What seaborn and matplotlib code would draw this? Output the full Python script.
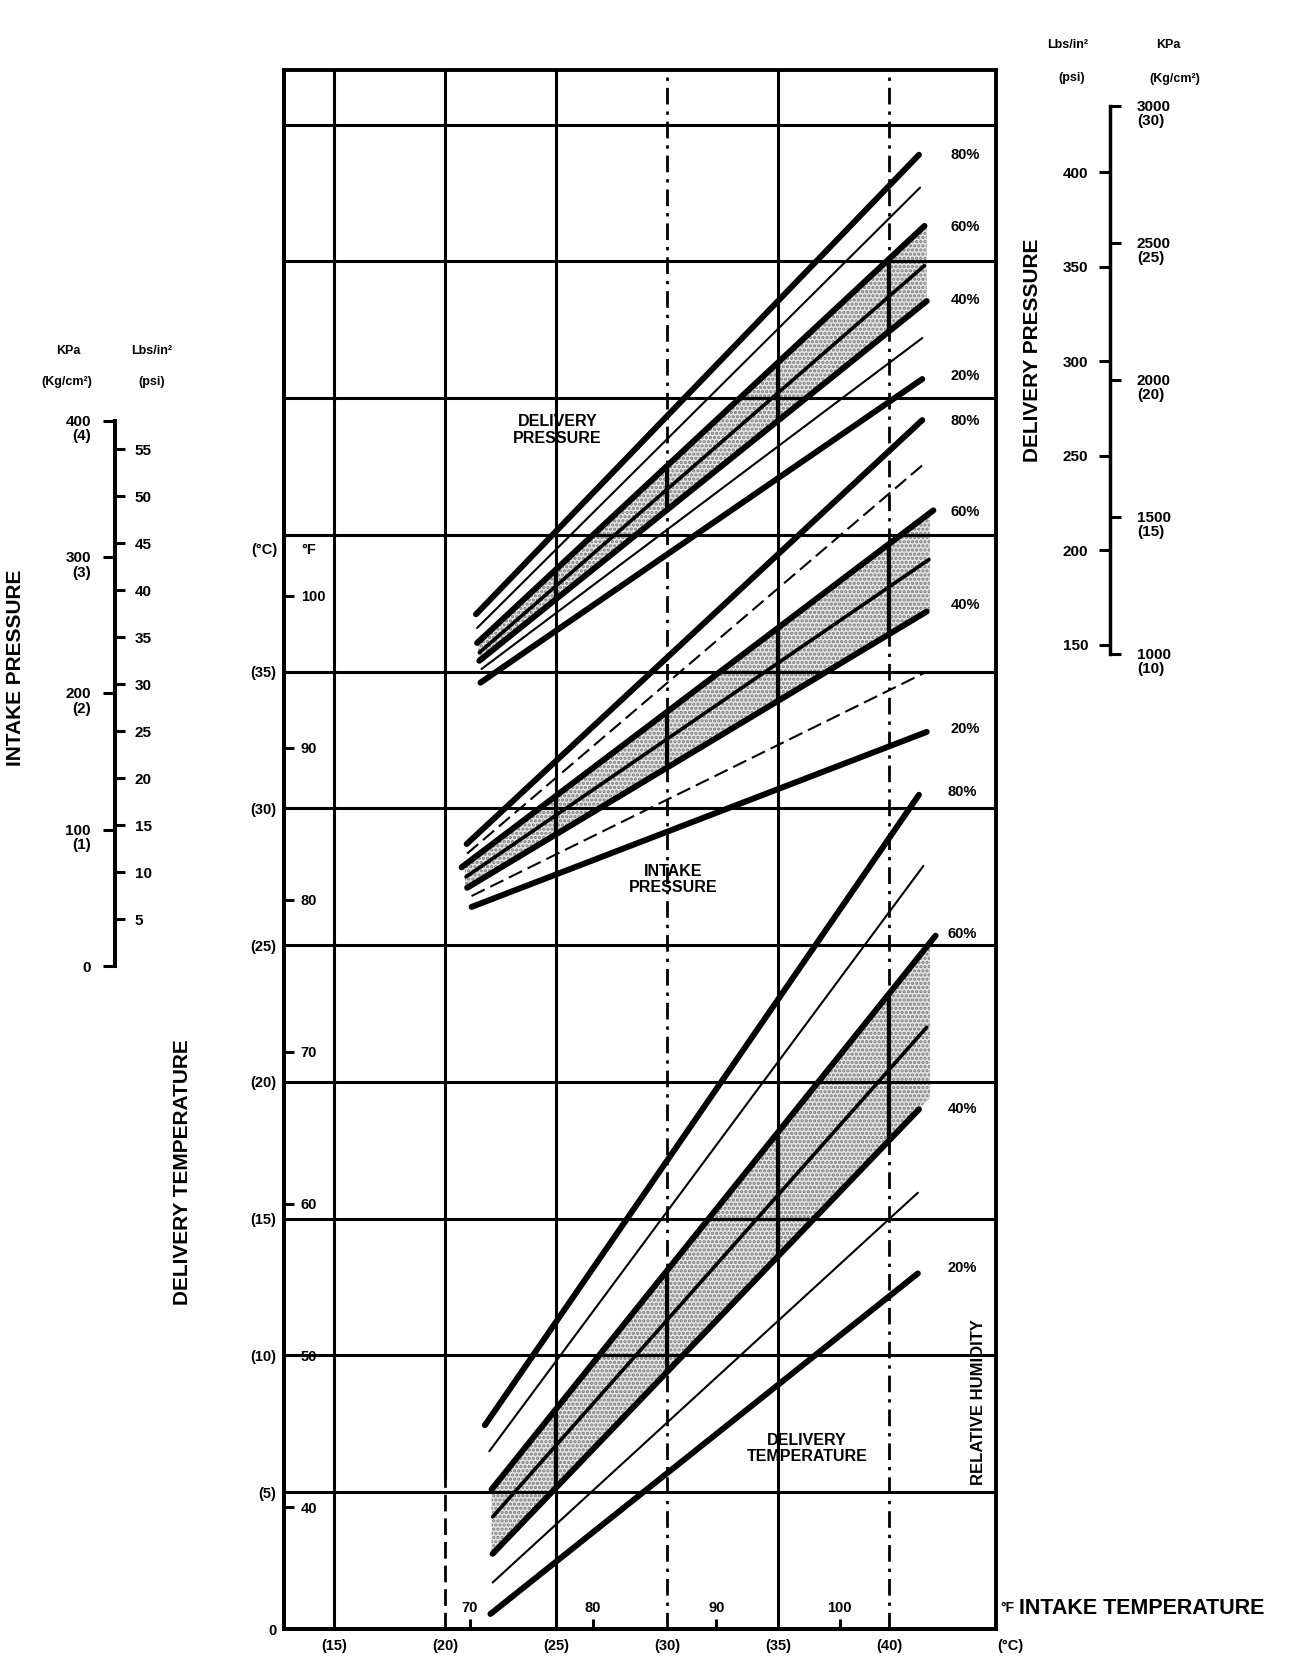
import numpy as np
import matplotlib.pyplot as plt
import seaborn as sns
from matplotlib.transforms import ScaledTranslation

# Relative humidity levels, one line per level in every family (top to bottom)
rh_levels = [80, 70, 60, 50, 40, 30, 20]

# Delivery pressure family: line end points (x = intake temp in C, y = chart scale)
dp_x0 = [21.4, 21.45, 21.45, 21.55, 21.55, 21.65, 21.6]
dp_y0 = [37.1, 36.6, 36.05, 35.7, 35.4, 35.1, 34.6]
dp_x1 = [41.35, 41.4, 41.6, 41.6, 41.7, 41.5, 41.5]
dp_y1 = [53.9, 52.7, 51.3, 49.85, 48.55, 47.2, 45.7]

# Intake pressure family
ip_x0 = [20.98, 21.0, 20.75, 20.95, 21.0, 21.2, 21.2]
ip_y0 = [28.7, 28.35, 27.85, 27.5, 27.1, 26.8, 26.4]
ip_x1 = [41.5, 41.65, 42.0, 41.8, 41.7, 41.7, 41.7]
ip_y1 = [44.2, 42.65, 40.9, 39.1, 37.2, 35.0, 32.8]

# Delivery temperature family
dt_x0 = [21.8, 22.0, 22.1, 22.15, 22.15, 22.15, 22.05]
dt_y0 = [7.45, 6.5, 5.1, 4.1, 2.75, 1.7, 0.55]
dt_x1 = [41.35, 41.55, 42.1, 41.7, 41.35, 41.3, 41.3]
dt_y1 = [30.5, 27.9, 25.35, 22.0, 19.0, 15.95, 13.0]

# percent labels at the right end of the thick lines
pct_text = ['80%', '60%', '40%', '20%']
dp_pct_y = [53.9, 51.25, 48.6, 45.8]
ip_pct_y = [44.15, 40.85, 37.45, 32.9]
dt_pct_y = [30.6, 25.4, 19.0, 13.2]

# main frame scales
intake_c_ticks = [15, 20, 25, 30, 35, 40]
intake_f_ticks = [70, 80, 90, 100]
deliv_c_ticks = [0, 5, 10, 15, 20, 25, 30, 35]
deliv_f_ticks = [40, 50, 60, 70, 80, 90, 100]
grid_rows_c = [5, 10, 15, 20, 25, 30, 35, 40, 45, 50, 55]

# side scales
intake_kpa_ticks = [0, 100, 200, 300, 400]
intake_kpa_labels = ['0', '100\n(1)', '200\n(2)', '300\n(3)', '400\n(4)']
intake_psi_ticks = [5, 10, 15, 20, 25, 30, 35, 40, 45, 50, 55]
deliv_kpa_ticks = [1000, 1500, 2000, 2500, 3000]
deliv_kpa_labels = ['1000\n(10)', '1500\n(15)', '2000\n(20)', '2500\n(25)', '3000\n(30)']
deliv_psi_ticks = [150, 200, 250, 300, 350, 400]
KPA_PER_PSI = 6.895

sns.set_theme(style="white", rc={'axes.edgecolor': 'black', 'text.color': 'black',
                                 'xtick.color': 'black', 'ytick.color': 'black'})
plt.rcParams['font.family'] = ['Liberation Sans', 'DejaVu Sans']
plt.rcParams['font.weight'] = 'bold'
plt.rcParams['hatch.linewidth'] = 1.6

W, H = 1312, 1660
fig = plt.figure(figsize=(W / 100, H / 100), dpi=100)
fig.patch.set_facecolor('white')


def fx(px):
    return px / W


def fy(py):
    return 1 - py / H


ax = fig.add_axes([fx(283.5), fy(1629), fx(996) - fx(283.5), fy(70) - fy(1629)])
ax.set_xlim(12.73, 44.82)
ax.set_ylim(0, 57)
for s in ax.spines.values():
    s.set_linewidth(2.8)
    s.set_color('black')

#grid of the nomogram
for yc in grid_rows_c:
    ax.axhline(yc, color='black', lw=2.2, zorder=2)
for xc in intake_c_ticks:
    if xc in (30, 40):
        ax.axvline(xc, color='black', lw=2.0, ls=(0, (6, 2.5, 1.2, 2.5)), zorder=2)
    elif xc == 20:
        ax.axvline(xc, ymin=5.5 / 57, color='black', lw=2.2, zorder=2)
        ax.axvline(xc, ymax=5.5 / 57, color='black', lw=2.0, ls=(0, (6, 2.5)), zorder=2)
    else:
        ax.axvline(xc, color='black', lw=2.2, zorder=2)


def line_y(x0, y0, x1, y1, x):
    return y0 + (y1 - y0) * (np.asarray(x) - x0) / (x1 - x0)


families = [
    (dp_x0, dp_y0, dp_x1, dp_y1, (21.5, 41.7), '-'),
    (ip_x0, ip_y0, ip_x1, ip_y1, (20.9, 41.85), (0, (7, 3))),
    (dt_x0, dt_y0, dt_x1, dt_y1, (22.1, 41.85), '-'),
]
widths = {80: 4.3, 70: 1.5, 60: 4.3, 50: 2.6, 40: 4.3, 30: 1.5, 20: 4.3}

for x0, y0, x1, y1, band, thin_ls in families:
    i60, i40 = rh_levels.index(60), rh_levels.index(40)
    # stippled band between the 60% and 40% lines
    xs = np.linspace(band[0], band[1], 50)
    top = line_y(x0[i60], y0[i60], x1[i60], y1[i60], xs)
    bot = line_y(x0[i40], y0[i40], x1[i40], y1[i40], xs)
    ax.fill_between(xs, bot, top, facecolor='#e6e6e6', hatch='....',
                    edgecolor='#7a7a7a', linewidth=0, zorder=1)
    vx = np.array([25, 30, 35, 40])
    ax.vlines(vx, line_y(x0[i40], y0[i40], x1[i40], y1[i40], vx),
              line_y(x0[i60], y0[i60], x1[i60], y1[i60], vx),
              color='black', lw=3.0, zorder=3)
    for i, rh in enumerate(rh_levels):
        ls = thin_ls if widths[rh] < 2 else '-'
        sns.lineplot(x=[x0[i], x1[i]], y=[y0[i], y1[i]], ax=ax, color='black',
                     lw=widths[rh], ls=ls, solid_capstyle='round', zorder=4,
                     legend=False)

for txt, yv in zip(pct_text, dp_pct_y):
    ax.text(43.45, yv, txt, ha='center', va='center', fontsize=10.5)
for txt, yv in zip(pct_text, ip_pct_y):
    ax.text(43.45, yv, txt, ha='center', va='center', fontsize=10.5)
for txt, yv in zip(pct_text, dt_pct_y):
    ax.text(43.3, yv, txt, ha='center', va='center', fontsize=10.5)

ax.text(25.07, 43.85, 'DELIVERY\nPRESSURE', ha='center', va='center',
        fontsize=11.5, linespacing=1.15, zorder=5)
ax.text(30.3, 27.4, 'INTAKE\nPRESSURE', ha='center', va='center',
        fontsize=11.5, linespacing=1.15, zorder=5)
ax.text(36.3, 6.6, 'DELIVERY\nTEMPERATURE', ha='center', va='center',
        fontsize=11.5, linespacing=1.15, zorder=5)
ax.text(44.05, 8.3, 'RELATIVE HUMIDITY', rotation=90, ha='center', va='center',
        fontsize=12)

#axis labels of the main frame
ax.set_xticks(intake_c_ticks, [f'({v})' for v in intake_c_ticks])
ax.set_yticks(deliv_c_ticks, ['0'] + [f'({v})' for v in deliv_c_ticks[1:]])
ax.tick_params(axis='both', length=0, labelsize=10.5)
ax.tick_params(axis='x', pad=7)
ax.tick_params(axis='y', pad=5)
ax.set_xlabel('')
ax.set_ylabel('')
ax.text(12.45, 39.45, '(°C)', ha='right', va='center', fontsize=10.5)
ax.text(13.55, 39.45, '°F', ha='left', va='center', fontsize=10.5)
ax.text(45.45, -0.62, '(°C)', ha='center', va='center', fontsize=10.5, clip_on=False)


def c2f(c):
    return np.asarray(c) * 9 / 5 + 32


def f2c(f):
    return (np.asarray(f) - 32) * 5 / 9


sec_y = ax.secondary_yaxis('left', functions=(c2f, f2c))
sec_y.set_yticks(deliv_f_ticks, [str(v) for v in deliv_f_ticks])
sec_y.tick_params(left=True, direction='in', length=7.5, width=2.2, pad=-12.5, labelsize=10.5)
for lab in sec_y.get_yticklabels():
    lab.set_horizontalalignment('left')
sec_y.spines['left'].set_linewidth(2.8)

sec_x = ax.secondary_xaxis('bottom', functions=(c2f, f2c))
sec_x.set_xticks(intake_f_ticks, [str(v) for v in intake_f_ticks])
sec_x.tick_params(bottom=True, direction='in', length=7.5, width=2.2, pad=-20, labelsize=10.5)
sec_x.spines['bottom'].set_linewidth(2.8)

fig.text(fx(182), fy(1172), 'DELIVERY TEMPERATURE', rotation=90, ha='center',
         va='center', fontsize=15)


def lift(axis_obj, pts):
    # move two-line labels up so the first line sits on its tick
    for lab in axis_obj.get_ticklabels():
        if '\n' in lab.get_text():
            lab.set_verticalalignment('top')
            lab.set_linespacing(1.05)
            lab.set_transform(lab.get_transform() +
                              ScaledTranslation(0, pts / 72, fig.dpi_scale_trans))


#intake pressure scale (left): KPa on the left of the bar, psi on the right
ax_ip = fig.add_axes([fx(115), fy(966), 1e-4, fy(421) - fy(966)])
ax_ip_psi = ax_ip.twinx()
for a in (ax_ip, ax_ip_psi):
    a.patch.set_visible(False)
    a.set_xticks([])
    for s in a.spines.values():
        s.set_visible(False)
ax_ip.set_ylim(0, 400)
ax_ip_psi.set_ylim(0, 400 / KPA_PER_PSI)
ax_ip.yaxis.tick_left()
ax_ip_psi.yaxis.tick_right()
ax_ip.spines['left'].set_visible(True)
ax_ip.spines['left'].set_linewidth(2.9)
ax_ip.set_yticks(intake_kpa_ticks, intake_kpa_labels)
ax_ip.tick_params(axis='y', left=True, direction='out', length=8.4, width=2.2,
                  pad=9, labelsize=11)
ax_ip_psi.set_yticks(intake_psi_ticks, [str(v) for v in intake_psi_ticks])
ax_ip_psi.tick_params(axis='y', right=True, direction='out', length=7.2, width=2.2,
                      pad=7, labelsize=11)
lift(ax_ip.yaxis, 4.5)

fig.text(fx(68), fy(351), 'KPa', ha='center', va='center', fontsize=9)
fig.text(fx(67), fy(382), '(Kg/cm²)', ha='center', va='center', fontsize=9)
fig.text(fx(152), fy(351), 'Lbs/in²', ha='center', va='center', fontsize=9)
fig.text(fx(152), fy(382), '(psi)', ha='center', va='center', fontsize=9)
fig.text(fx(16), fy(668), 'INTAKE PRESSURE', rotation=90, ha='center', va='center',
         fontsize=15)

#delivery pressure scale (right): psi on the left of the bar, KPa on the right
ax_dp = fig.add_axes([fx(1110), fy(654), 1e-4, fy(105.8) - fy(654)])
ax_dp_psi = ax_dp.twinx()
for a in (ax_dp, ax_dp_psi):
    a.patch.set_visible(False)
    a.set_xticks([])
    for s in a.spines.values():
        s.set_visible(False)
ax_dp.set_ylim(1000, 3000)
ax_dp_psi.set_ylim(1000 / KPA_PER_PSI, 3000 / KPA_PER_PSI)
ax_dp.yaxis.tick_right()
ax_dp_psi.yaxis.tick_left()
ax_dp.spines['right'].set_visible(True)
ax_dp.spines['right'].set_linewidth(2.5)
ax_dp.set_yticks(deliv_kpa_ticks, deliv_kpa_labels)
ax_dp.tick_params(axis='y', right=True, left=False, labelright=True, labelleft=False,
                  direction='out', length=7.7, width=2.2, pad=11.5, labelsize=11)
ax_dp_psi.set_yticks(deliv_psi_ticks, [str(v) for v in deliv_psi_ticks])
ax_dp_psi.tick_params(axis='y', left=True, right=False, labelleft=True, labelright=False,
                      direction='out', length=7.7, width=2.2, pad=8, labelsize=11)
for lab in ax_dp.get_yticklabels():
    lab.set_horizontalalignment('left')
lift(ax_dp.yaxis, 4.5)

fig.text(fx(1068), fy(45), 'Lbs/in²', ha='center', va='center', fontsize=9)
fig.text(fx(1072), fy(78), '(psi)', ha='center', va='center', fontsize=9)
fig.text(fx(1168), fy(45), 'KPa', ha='center', va='center', fontsize=9)
fig.text(fx(1175), fy(79), '(Kg/cm²)', ha='center', va='center', fontsize=9)
fig.text(fx(1033), fy(350), 'DELIVERY PRESSURE', rotation=90, ha='center',
         va='center', fontsize=15)

#intake temperature caption
fig.text(fx(1000), fy(1608), '°F', ha='left', va='center', fontsize=10)
fig.text(fx(1019), fy(1608), 'INTAKE TEMPERATURE', ha='left', va='center', fontsize=15.5)

fig.savefig('out.png', dpi=100, facecolor='white')
